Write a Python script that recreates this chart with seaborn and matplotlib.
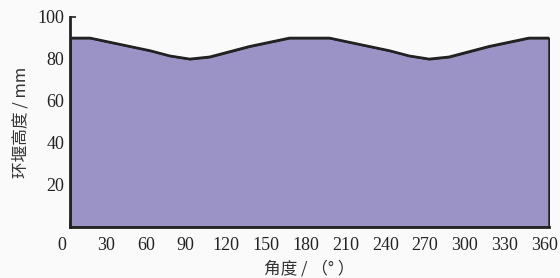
import matplotlib
matplotlib.use("Agg")
import matplotlib.pyplot as plt
import matplotlib.transforms as mtransforms
import matplotlib.ticker as mticker
import seaborn as sns
import pandas as pd

sns.set_style("ticks")
plt.rcParams['font.family'] = ['Liberation Serif', 'Noto Sans CJK SC']

# profile
angle = [0, 15, 30, 45, 60, 75, 90, 105, 120, 135, 150, 165, 180,
         195, 210, 225, 240, 255, 270, 285, 300, 315, 330, 345, 360]
height = [90, 90, 88, 86, 84, 81.5, 80, 81, 83.5, 86, 88, 90, 90,
          90, 88, 86, 84, 81.5, 80, 81, 83.5, 86, 88, 90, 90]
xticks = list(range(0, 361, 30))
yticks = [20, 40, 60, 80, 100]

df = pd.DataFrame({"angle": angle, "height": height})

fig = plt.figure(figsize=(5.6, 2.78), dpi=100, facecolor='#fafafa')
ax = fig.add_axes([0.125, 0.1835, 0.855, 0.7555])
ax.set_facecolor('#fafafa')

ax.fill_between(df["angle"], 0, df["height"], color='#9b93c6',
                edgecolor='#222222', linewidth=1.5)
sns.lineplot(data=df, x="angle", y="height", ax=ax, color='#222222',
             linewidth=1.8)

ax.set_xlim(0, 360)
ax.set_ylim(0, 100)
ax.set_xticks(xticks)
ax.set_yticks(yticks)
ax.xaxis.set_minor_locator(mticker.MultipleLocator(15))
ax.tick_params(axis='both', which='major', direction='in', length=4,
               width=1.2, labelsize=13, colors='#222222', pad=7)
ax.tick_params(axis='x', which='minor', direction='in', length=2,
               width=0.8)
ax.tick_params(axis='y', pad=4)

for side in ['top', 'right']:
    ax.spines[side].set_visible(False)
for side in ['left', 'bottom']:
    ax.spines[side].set_linewidth(2)
    ax.spines[side].set_color('#222222')

ax.set_xlabel("角度 / （° ）", fontsize=12, color='#333333',
              family=['Noto Sans CJK SC', 'DejaVu Sans'], labelpad=5)
ax.set_ylabel("环堰高度 / mm", fontsize=12, color='#333333',
              family=['Noto Sans CJK SC', 'Liberation Serif'], labelpad=6)

# x labels sit a little left of their ticks in the reference
fig.canvas.draw()
for i, lab in enumerate(ax.get_xticklabels()):
    dx = -8 if i == 0 else -4
    lab.set_transform(lab.get_transform() +
                      mtransforms.ScaledTranslation(dx / 100, 0, fig.dpi_scale_trans))

fig.savefig("out.png", dpi=100, facecolor=fig.get_facecolor())
